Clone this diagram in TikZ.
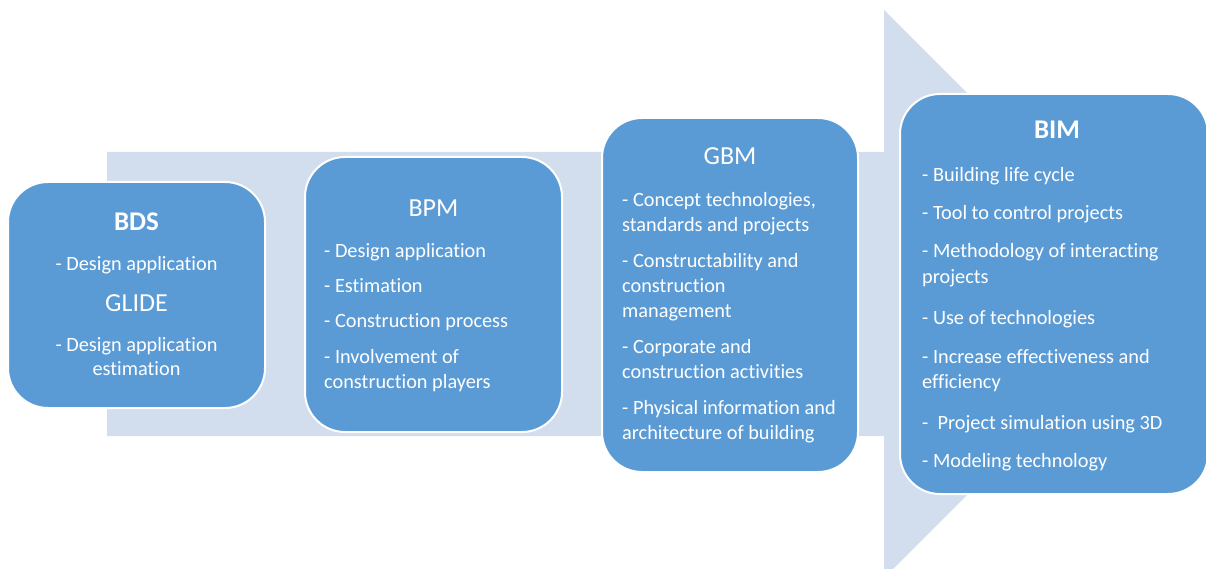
\documentclass[tikz,border=0pt]{standalone}
\usepackage{fontspec}
\setmainfont{Carlito}[Ligatures=NoCommon]
\definecolor{boxblue}{HTML}{5B9BD5}
\definecolor{arrowblue}{HTML}{D2DDEE}
\tikzset{
  box/.style={draw=white, line width=2pt, fill=boxblue, rounded corners=40pt, inner sep=0pt},
  body/.style={font=\fontsize{20.3}{25}\selectfont, text=white, inner sep=0pt, anchor=base west},
  bodyc/.style={font=\fontsize{20.3}{25}\selectfont, text=white, inner sep=0pt, anchor=base},
  titleb/.style={font=\fontsize{27}{30}\selectfont\bfseries, text=white, inner sep=0pt, anchor=base},
  titler/.style={font=\fontsize{26}{30}\selectfont, text=white, inner sep=0pt, anchor=base},
}
\begin{document}
\begin{tikzpicture}[x=1pt,y=-1pt]
\useasboundingbox (0,0) rectangle (1206,569);
% big arrow
\fill[arrowblue] (107,152) -- (884,152) -- (884,10) -- (1168,294) -- (884,578) -- (884,436) -- (107,436) -- cycle;
% boxes
\node[box, minimum width=257pt, minimum height=226pt] (bds) at (136.5,295) {};
\node[box, minimum width=257pt, minimum height=275pt] (bpm) at (433.5,294.5) {};
\node[box, minimum width=256pt, minimum height=354pt] (gbm) at (730,295) {};
\node[box, minimum width=308pt, minimum height=400pt] (bim) at (1054,294) {};
% BDS
\node[titleb] (bdst) at (136.5,230) {BDS};
\node[bodyc] (bds1) at (136.5,270) {- Design application};
\node[titler] (glide) at (136.5,311) {GLIDE};
\node[bodyc] (bds2) at (136.5,351) {- Design application};
\node[bodyc] (bds3) at (136.5,375) {estimation};
% BPM
\node[titler] (bpmt) at (433.5,217) {BPM};
\node[body] (bpm1) at (324,257) {- Design application};
\node[body] (bpm2) at (324,292) {- Estimation};
\node[body] (bpm3) at (324,327) {- Construction process};
\node[body] (bpm4) at (324,363) {- Involvement of};
\node[body] (bpm5) at (324,388) {construction players};
% GBM
\node[titler] (gbmt) at (730,165) {GBM};
\node[body] (gbm1) at (622,207) {- Concept technologies,};
\node[body] (gbm2) at (622,232) {standards and projects};
\node[body] (gbm3) at (622,267) {- Constructability and};
\node[body] (gbm4) at (622,292) {construction};
\node[body] (gbm5) at (622,317) {management};
\node[body] (gbm6) at (622,353) {- Corporate and};
\node[body] (gbm7) at (622,378) {construction activities};
\node[body] (gbm8) at (622,414) {- Physical information and};
\node[body] (gbm9) at (622,439) {architecture of building};
% BIM
\node[titleb] (bimt) at (1057,139) {BIM};
\node[body] (bim1) at (922,182) {- Building life cycle};
\node[body] (bim2) at (922,220) {- Tool to control projects};
\node[body] (bim3) at (922,258) {- Methodology of interacting};
\node[body] (bim4) at (922,283) {projects};
\node[body] (bim5) at (922,324) {- Use of technologies};
\node[body] (bim6) at (922,363) {- Increase effectiveness and};
\node[body] (bim7) at (922,388) {efficiency};
\node[body] (bim8) at (922,429) {-\ \ Project simulation using 3D};
\node[body] (bim9) at (922,467) {- Modeling technology};
\end{tikzpicture}
\end{document}
